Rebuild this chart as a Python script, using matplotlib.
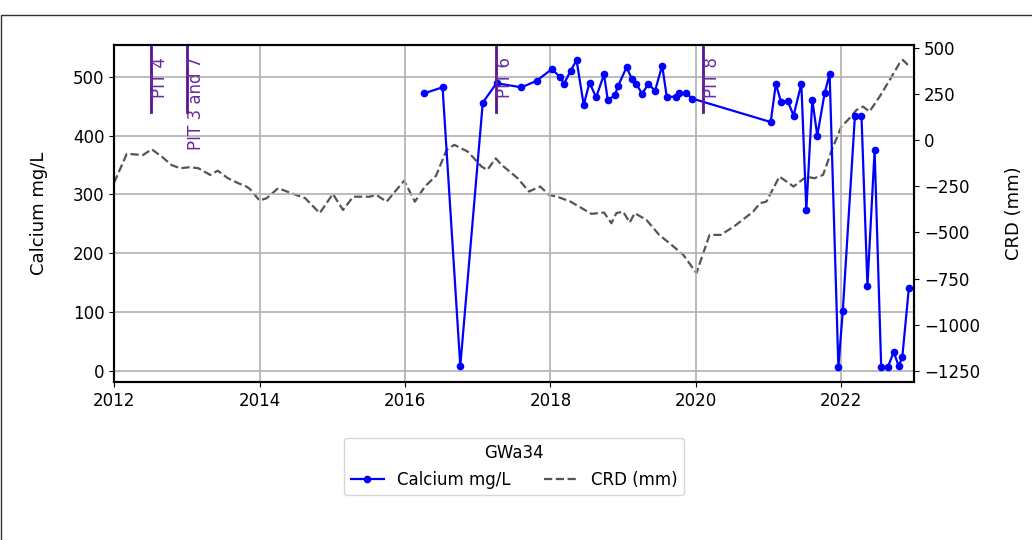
import matplotlib
matplotlib.use("Agg")
import matplotlib.pyplot as plt
import matplotlib.dates as mdates
from matplotlib.patches import Rectangle
import pandas as pd

site = "GWa34"

calcium_dates = [
    "2016-04-08", "2016-07-08", "2016-10-05", "2017-01-26", "2017-04-05",
    "2017-08-08", "2017-10-23", "2018-01-08", "2018-02-17", "2018-03-10",
    "2018-04-12", "2018-05-12", "2018-06-17", "2018-07-16", "2018-08-18",
    "2018-09-27", "2018-10-16", "2018-11-21", "2018-12-06", "2019-01-18",
    "2019-02-13", "2019-03-08", "2019-04-06", "2019-05-08", "2019-06-10",
    "2019-07-16", "2019-08-08", "2019-09-24", "2019-10-08", "2019-11-14",
    "2019-12-13", "2021-01-11", "2021-02-06", "2021-03-04", "2021-04-06",
    "2021-05-06", "2021-06-14", "2021-07-09", "2021-08-08", "2021-09-02",
    "2021-10-09", "2021-11-03", "2021-12-17", "2022-01-08", "2022-03-10",
    "2022-04-12", "2022-05-12", "2022-06-17", "2022-07-20", "2022-08-22",
    "2022-09-21", "2022-10-16", "2022-11-03", "2022-12-06",
]
calcium = [
    472, 482, 8, 456, 489, 482, 493, 513, 500, 488,
    510, 528, 452, 490, 465, 504, 460, 469, 484, 516,
    497, 488, 471, 488, 476, 519, 466, 466, 472, 472,
    463, 423, 488, 457, 459, 434, 488, 273, 461, 400,
    472, 505, 6, 101, 433, 434, 145, 375, 6, 6,
    32, 8, 23, 141,
]

crd_dates = [
    "2012-01-01", "2012-03-05", "2012-05-26", "2012-07-08", "2012-08-28",
    "2012-10-15", "2012-11-28", "2013-01-17", "2013-02-28", "2013-04-28",
    "2013-06-05", "2013-07-26", "2013-09-16", "2013-10-27", "2013-11-14",
    "2014-01-01", "2014-02-06", "2014-04-04", "2014-06-10", "2014-08-18",
    "2014-10-30", "2015-01-04", "2015-02-24", "2015-04-16", "2015-07-08",
    "2015-08-10", "2015-10-01", "2015-12-28", "2016-02-20", "2016-04-10",
    "2016-06-05", "2016-07-28", "2016-09-05", "2016-11-12", "2017-01-20",
    "2017-02-18", "2017-04-01", "2017-05-01", "2017-07-20", "2017-09-15",
    "2017-11-10", "2017-12-25", "2018-02-12", "2018-04-12", "2018-07-26",
    "2018-09-27", "2018-11-03", "2018-11-28", "2019-01-01", "2019-02-03",
    "2019-02-28", "2019-04-28", "2019-07-01", "2019-09-01", "2019-10-30",
    "2020-01-04", "2020-03-10", "2020-05-05", "2020-07-10", "2020-10-15",
    "2020-11-18", "2020-12-20", "2021-02-24", "2021-05-06", "2021-07-09",
    "2021-08-18", "2021-10-01", "2021-11-14", "2022-01-01", "2022-02-03",
    "2022-03-18", "2022-04-20", "2022-05-22", "2022-07-12", "2022-09-01",
    "2022-10-20", "2022-11-06", "2022-12-01",
]
crd = [
    -231, -74, -80, -49, -89, -134, -152, -146, -152, -188,
    -165, -206, -233, -251, -265, -327, -314, -260, -287, -314,
    -395, -291, -378, -306, -306, -296, -333, -219, -333, -251,
    -193, -53, -25, -62, -143, -161, -98, -134, -206, -278,
    -251, -296, -309, -333, -399, -392, -450, -395, -387, -446,
    -395, -432, -513, -567, -621, -720, -513, -513, -468, -387,
    -341, -333, -197, -251, -197, -206, -188, -53, 74, 110,
    164, 182, 155, 236, 327, 417, 435, 408,
]

pit_labels = ["PIT 4", "PIT 3 and 7", "PIT 6", "PIT 8"]
pit_dates = ["2012-07-05", "2013-01-01", "2017-04-01", "2020-02-05"]

calcium_dates = pd.to_datetime(calcium_dates)
crd_dates = pd.to_datetime(crd_dates)
pit_dates = pd.to_datetime(pit_dates)

fig = plt.figure(figsize=(10.32, 5.4), dpi=100)
ax1 = fig.add_axes([0.1105, 0.2926, 0.7752, 0.6241])
ax2 = ax1.twinx()

# calcium on top of CRD
ax1.set_zorder(ax2.get_zorder() + 1)
ax1.patch.set_visible(False)

l1, = ax1.plot(calcium_dates, calcium, color="blue", marker="o", markersize=4.5,
               linewidth=1.6, label="Calcium mg/L")
l2, = ax2.plot(crd_dates, crd, color="#555555", linestyle="--", linewidth=1.6,
               label="CRD (mm)")

for d, lab in zip(pit_dates, pit_labels):
    ax1.axvline(d, ymin=0.8, ymax=1.0, color="#5a1490", linewidth=2)
    ax1.text(d, 0.965, lab, transform=ax1.get_xaxis_transform(), rotation=90,
             ha="left", va="top", color="#6a2a9e", fontsize=12)

ax1.set_xlim(pd.Timestamp("2012-01-01"), pd.Timestamp("2023-01-01"))
ax1.set_ylim(-19, 554)
ax2.set_ylim(-1310, 516)
ax2.set_yticks([500, 250, 0, -250, -500, -750, -1000, -1250])

ax1.xaxis.set_major_locator(mdates.YearLocator(2))
ax1.xaxis.set_major_formatter(mdates.DateFormatter("%Y"))

ax1.grid(True, color="#b0b0b0", linewidth=1.2)
ax1.set_ylabel("Calcium mg/L", fontsize=13, labelpad=18)
ax2.set_ylabel("CRD (mm)", fontsize=13, labelpad=18)
ax1.tick_params(labelsize=12)
ax2.tick_params(labelsize=12)
for sp in list(ax1.spines.values()) + list(ax2.spines.values()):
    sp.set_linewidth(1.5)

ax1.legend([l1, l2], ["Calcium mg/L", "CRD (mm)"], title=site, ncol=2,
           loc="upper center", bbox_to_anchor=(0.5, -0.14), fontsize=12,
           title_fontsize=12)

# outer frame of the figure
fig.add_artist(Rectangle((0.0008, -0.1), 1.2, 1.1 - 15 / 540, transform=fig.transFigure,
                         fill=False, edgecolor="#333333", linewidth=1, clip_on=False))

fig.savefig("out.png", dpi=100)
